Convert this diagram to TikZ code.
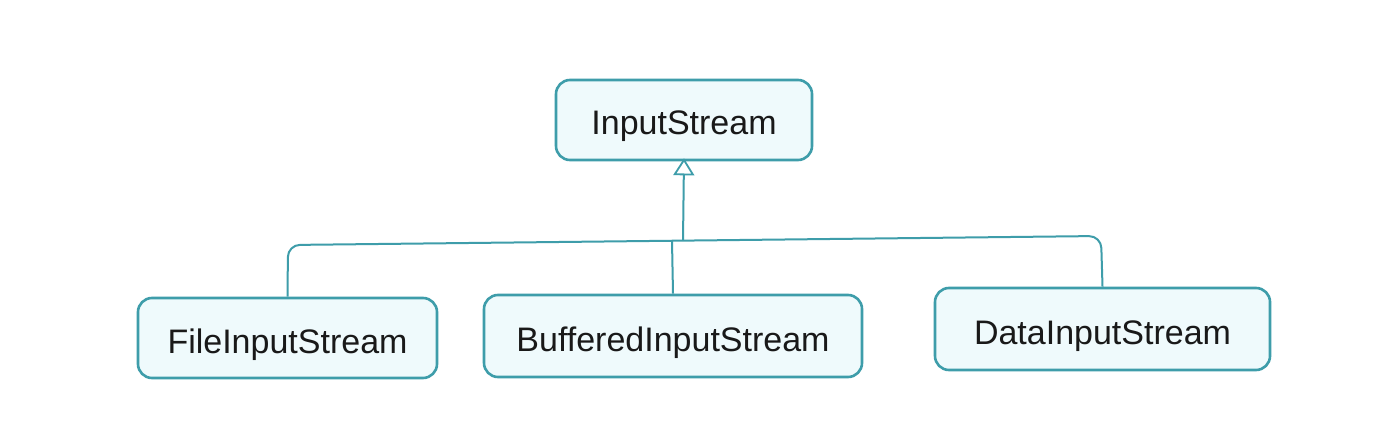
\documentclass[tikz,border=0pt]{standalone}
\usepackage{fontspec}
\setmainfont{Liberation Sans}
\usetikzlibrary{arrows.meta}
\definecolor{edge}{HTML}{3E9DAA}
\definecolor{boxfill}{HTML}{EFFAFC}
\begin{document}
\begin{tikzpicture}[x=1pt,y=-1pt,
  cls/.style={draw=edge, fill=boxfill, line width=2.6pt, rounded corners=14pt,
    inner sep=0pt, font=\fontsize{34}{40}\selectfont, text=black!90,
    text depth=0pt, text height=30pt},
  conn/.style={draw=edge, line width=2pt}]
\fill[white] (0,0) rectangle (1383,430);
\useasboundingbox (0,0) rectangle (1383,430);
\node[cls, minimum width=256pt, minimum height=80pt] (top) at (684,120) {InputStream};
\node[cls, minimum width=299pt, minimum height=80pt] (file) at (287.5,338) {FileInputStream};
\node[cls, minimum width=378pt, minimum height=82pt] (buf) at (673,336) {BufferedInputStream};
\node[cls, minimum width=335pt, minimum height=82pt] (data) at (1102.5,329) {DataInputStream};
\coordinate (bl) at (288,245);
\coordinate (br) at (1101,236);
\coordinate (jt) at (683,240.5);
\coordinate (jb) at (672,241);
\draw[conn, rounded corners=12pt] (file.north) -- (bl) -- (br) -- (data.north);
\draw[conn] (buf.north) -- (jb);
\draw[conn, -{Triangle[open, length=17pt, width=21pt, line width=1.8pt]}] (jt) -- ([yshift=3pt]top.south);
\end{tikzpicture}
\end{document}
